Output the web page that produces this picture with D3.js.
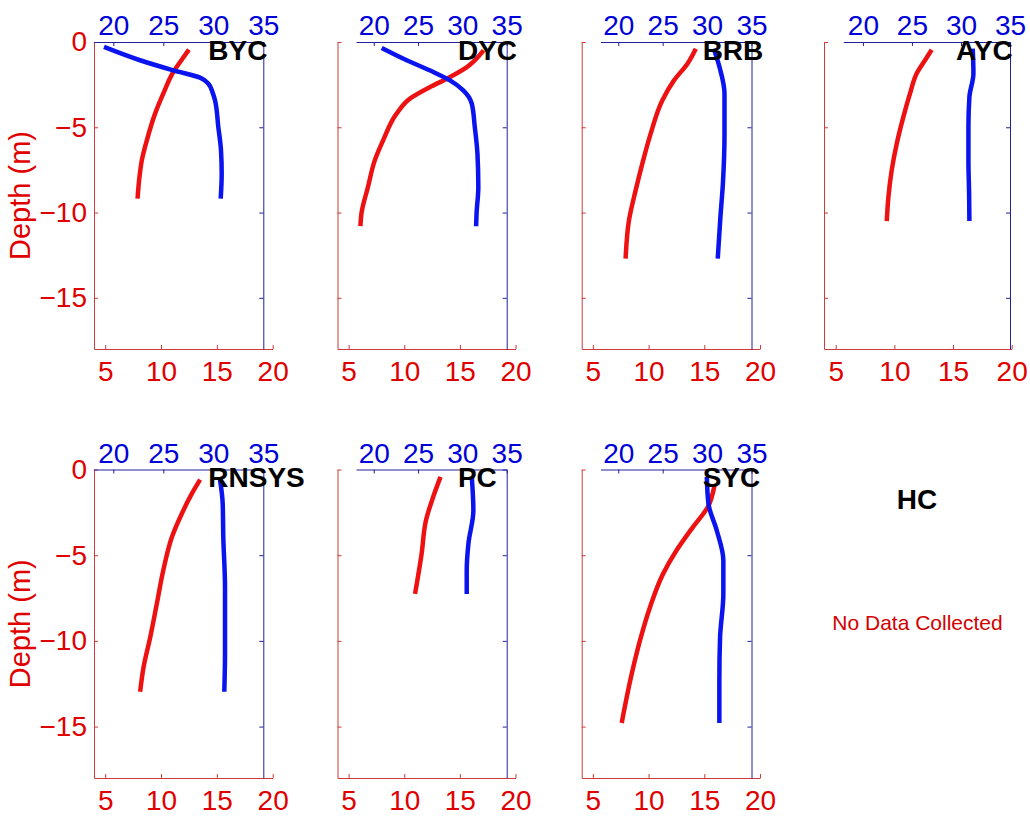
<!DOCTYPE html>
<html>
<head>
<meta charset="utf-8">
<script src="https://cdn.jsdelivr.net/npm/d3@7"></script>
<style>
  body { margin: 0; background: #fff; }
  svg text { font-family: "Liberation Sans", Arial, sans-serif; }
</style>
</head>
<body>
<svg id="chart" width="1030" height="816"></svg>
<script>
// axis domains and ticks
var tempDomain = [4, 20];
var salDomain = [18, 35];
var depthDomain = [-18, 0];
var tempTicks = [5, 10, 15, 20];
var salTicks = [20, 25, 30, 35];
var depthTicks = [0, -5, -10, -15];

var stations = ["BYC", "DYC", "BRB", "AYC", "RNSYS", "PC", "SYC", "HC"];

// profiles (depth in m, temperature, salinity)
var bycTempDepth = [-0.45, -1.0, -1.76, -3.03, -4.2, -5.77, -6.94, -7.92, -9.18];
var bycTemp      = [12.5, 11.9, 11.1, 10.2, 9.47, 8.73, 8.28, 8.07, 7.9];
var bycSalDepth  = [-0.29, -1.07, -1.66, -2.09, -2.44, -3.0, -3.42, -4.98, -6.35, -7.72, -9.18];
var bycSal       = [19.07, 22.67, 26.0, 28.67, 29.5, 29.95, 30.17, 30.5, 30.77, 30.84, 30.74];

var dycTempDepth = [-0.49, -1.47, -2.15, -2.64, -3.32, -4.2, -5.77, -6.94, -8.5, -10.06, -10.8];
var dycTemp      = [17.13, 15.63, 13.83, 12.32, 10.51, 9.31, 8.1, 7.35, 6.74, 6.15, 6.06];
var dycSalDepth  = [-0.35, -1.07, -1.76, -2.25, -2.83, -3.61, -4.98, -6.55, -8.5, -10.06, -10.8];
var dycSal       = [20.9, 23.72, 26.73, 28.6, 30.1, 31.06, 31.4, 31.7, 31.8, 31.6, 31.55];

var brbTempDepth = [-0.39, -1.27, -2.25, -3.42, -5.37, -7.13, -8.7, -10.46, -12.7];
var brbTemp      = [14.24, 13.49, 12.28, 11.24, 10.19, 9.44, 8.84, 8.24, 7.94];
var brbSalDepth  = [-0.39, -1.47, -3.03, -5.37, -8.3, -10.26, -12.7];
var brbSal       = [30.75, 31.4, 31.96, 31.96, 31.78, 31.5, 31.2];

var aycTempDepth = [-0.45, -1.07, -1.85, -3.03, -4.4, -5.96, -7.52, -9.09, -10.5];
var aycTemp      = [13.18, 12.61, 11.9, 11.33, 10.76, 10.2, 9.77, 9.49, 9.35];
var aycSalDepth  = [-0.39, -1.85, -3.22, -4.98, -6.94, -8.89, -10.5];
var aycSal       = [31.2, 31.27, 30.86, 30.76, 30.76, 30.83, 30.86];

var rnsysTempDepth = [-0.59, -1.41, -2.58, -3.95, -5.9, -7.85, -9.8, -11.56, -12.97];
var rnsysTemp      = [13.5, 12.76, 11.86, 10.97, 10.2, 9.62, 9.03, 8.43, 8.13];
var rnsysSalDepth  = [-0.59, -1.99, -3.95, -6.88, -10.78, -12.97];
var rnsysSal       = [30.67, 30.94, 31.0, 31.17, 31.17, 31.1];

var pcTempDepth = [-0.43, -1.6, -2.97, -4.92, -7.26];
var pcTemp      = [13.26, 12.6, 11.95, 11.56, 10.97];
var pcSalDepth  = [-0.43, -2.38, -4.33, -5.9, -7.26];
var pcSal       = [31.06, 31.24, 30.68, 30.49, 30.49];

var sycTempDepth = [-0.92, -2.19, -3.36, -4.73, -6.09, -8.05, -10.0, -11.95, -14.79];
var sycTemp      = [15.92, 15.32, 13.98, 12.5, 11.3, 10.12, 9.22, 8.48, 7.59];
var sycSalDepth  = [-0.43, -1.99, -3.56, -5.31, -7.26, -9.8, -12.34, -14.79];
var sycSal       = [29.97, 30.15, 31.09, 31.83, 31.83, 31.46, 31.38, 31.38];

var profiles = [
  { tD: bycTempDepth, t: bycTemp, sD: bycSalDepth, s: bycSal },
  { tD: dycTempDepth, t: dycTemp, sD: dycSalDepth, s: dycSal },
  { tD: brbTempDepth, t: brbTemp, sD: brbSalDepth, s: brbSal },
  { tD: aycTempDepth, t: aycTemp, sD: aycSalDepth, s: aycSal },
  { tD: rnsysTempDepth, t: rnsysTemp, sD: rnsysSalDepth, s: rnsysSal },
  { tD: pcTempDepth, t: pcTemp, sD: pcSalDepth, s: pcSal },
  { tD: sycTempDepth, t: sycTemp, sD: sycSalDepth, s: sycSal }
];

// panel geometry (pixels)
var redLeft = [94, 337.5, 581.7, 824],
  redRight = [272.7, 515.5, 760, 1011.7],
  blueLeft = [93.3, 356, 600.5, 843.3],
  blueRight = [263.3, 506.7, 751.5, 1010],
  rowTop = [42, 469.5],
  rowBottom = [349, 778],
  labelSal = 29.5;

var redText = "#e00000", blueText = "#0000d8",
  redAxis = "#d03a3a", blueAxis = "#2020a0",
  redLine = "#ee1111", blueLine = "#0a14ee",
  fontSize = 28;

var svg = d3.select("#chart");

function styleAxis(g, lineColor, textColor) {
  g.attr("font-size", fontSize)
    .attr("font-family", "'Liberation Sans', Arial, sans-serif");
  g.selectAll("path, line").attr("stroke", lineColor).attr("stroke-width", 1);
  g.selectAll("text").attr("fill", textColor);
}

profiles.forEach(function (p, i) {
  var col = i % 4, row = Math.floor(i / 4);

  var xT = d3.scaleLinear().domain(tempDomain).range([redLeft[col], redRight[col]]),
    xS = d3.scaleLinear().domain(salDomain).range([blueLeft[col], blueRight[col]]),
    y = d3.scaleLinear().domain(depthDomain).range([rowBottom[row], rowTop[row]]);

  var g = svg.append("g").attr("class", "panel");

  // red axes: left (depth) and bottom (temperature)
  g.append("g")
    .attr("transform", "translate(" + redLeft[col] + ",0)")
    .call(d3.axisLeft(y).tickValues(depthTicks).tickSizeInner(-4).tickSizeOuter(0).tickPadding(7)
      .tickFormat(col === 0 ? d3.format("d") : ""))
    .call(styleAxis, redAxis, redText);

  g.append("g")
    .attr("transform", "translate(0," + rowBottom[row] + ")")
    .call(d3.axisBottom(xT).tickValues(tempTicks).tickSizeInner(-4).tickSizeOuter(0).tickPadding(12))
    .call(styleAxis, redAxis, redText);

  // blue axes: top (salinity) and right
  g.append("g")
    .attr("transform", "translate(0," + rowTop[row] + ")")
    .call(d3.axisTop(xS).tickValues(salTicks).tickSizeInner(-4).tickSizeOuter(0).tickPadding(7))
    .call(styleAxis, blueAxis, blueText);

  g.append("g")
    .attr("transform", "translate(" + blueRight[col] + ",0)")
    .call(d3.axisRight(y).tickValues(depthTicks).tickSizeInner(-4).tickSizeOuter(0).tickFormat(""))
    .call(styleAxis, blueAxis, blueText);

  // profiles
  var tempLine = d3.line()
    .x(function (d) { return xT(d[1]); })
    .y(function (d) { return y(d[0]); })
    .curve(d3.curveMonotoneY);
  var salLine = d3.line()
    .x(function (d) { return xS(d[1]); })
    .y(function (d) { return y(d[0]); })
    .curve(d3.curveMonotoneY);

  g.append("path")
    .datum(d3.zip(p.tD, p.t))
    .attr("d", tempLine)
    .attr("fill", "none")
    .attr("stroke", redLine)
    .attr("stroke-width", 4.5)
    .attr("stroke-linejoin", "round");

  g.append("path")
    .datum(d3.zip(p.sD, p.s))
    .attr("d", salLine)
    .attr("fill", "none")
    .attr("stroke", blueLine)
    .attr("stroke-width", 4.5)
    .attr("stroke-linejoin", "round");

  // station name
  g.append("text")
    .attr("x", xS(labelSal))
    .attr("y", rowTop[row] + 17.5)
    .attr("font-size", fontSize)
    .attr("font-weight", "bold")
    .attr("fill", "#000")
    .text(stations[i]);

  if (col === 0) {
    g.append("text")
      .attr("transform", "translate(30," + ((rowTop[row] + rowBottom[row]) / 2) + ") rotate(-90)")
      .attr("text-anchor", "middle")
      .attr("font-size", fontSize + 1)
      .attr("fill", redText)
      .text("Depth (m)");
  }
});

// empty station
svg.append("text")
  .attr("x", 917)
  .attr("y", 509)
  .attr("text-anchor", "middle")
  .attr("font-size", fontSize)
  .attr("font-weight", "bold")
  .text(stations[7]);

svg.append("text")
  .attr("x", 917.5)
  .attr("y", 630)
  .attr("text-anchor", "middle")
  .attr("font-size", 21)
  .attr("fill", "#d40000")
  .text("No Data Collected");
</script>
</body>
</html>
